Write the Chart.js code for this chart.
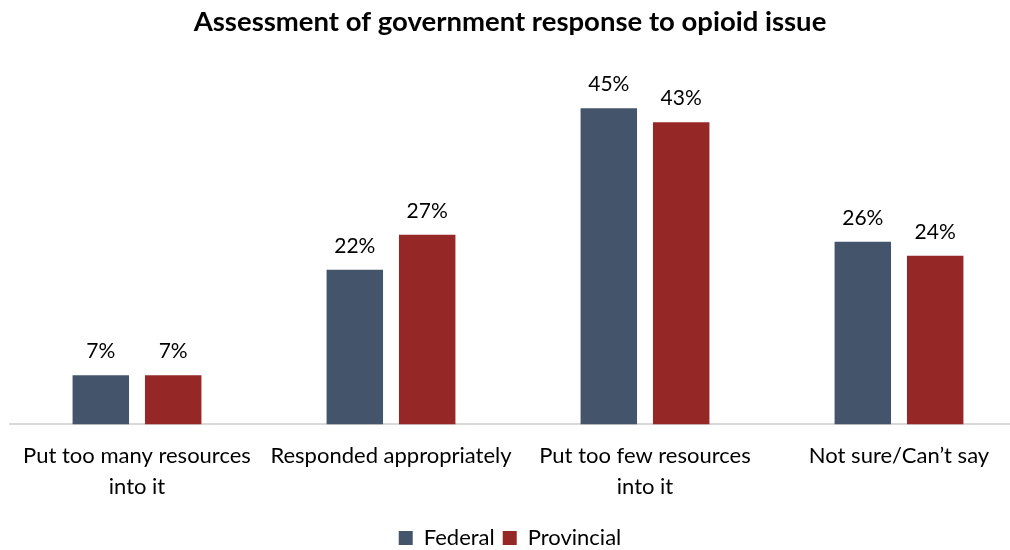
<!DOCTYPE html>
<html>
<head>
<meta charset="utf-8">
<script src="https://cdn.jsdelivr.net/npm/chart.js@4.4.0/dist/chart.umd.min.js"></script>
<style>
  html, body { margin: 0; padding: 0; background: #fff; }
</style>
</head>
<body>
<canvas id="grafico" width="1010" height="550"></canvas>
<script>
var categorie = [
  ['Put too many resources', 'into it'],
  'Responded appropriately',
  ['Put too few resources', 'into it'],
  'Not sure/Can\u2019t say'
];
var federale = [7, 22, 45, 26];
var provinciale = [7, 27, 43, 24];

// etichette sopra le barre
var etichette = {
  id: 'etichette',
  afterDatasetsDraw: function (chart) {
    var ctx = chart.ctx;
    ctx.save();
    ctx.font = '21px Lato';
    ctx.fillStyle = '#000';
    ctx.textAlign = 'center';
    ctx.textBaseline = 'bottom';
    chart.data.datasets.forEach(function (ds, i) {
      chart.getDatasetMeta(i).data.forEach(function (bar, j) {
        ctx.fillText(ds.data[j] + '%', bar.x, bar.y - 13);
      });
    });
    ctx.restore();
  }
};

// l'asse x esce un po' a destra del canvas, la legenda scende in basso
var aggiusta = {
  id: 'aggiusta',
  afterLayout: function (chart) {
    var x = chart.scales.x;
    x.right += 16;
    x.width += 16;
    x.configure();
    chart.legend.top += 9;
    chart.legend.bottom += 9;
  }
};

var myChart = new Chart(document.getElementById('grafico'), {
  type: 'bar',
  data: {
    labels: categorie,
    datasets: [{
      label: 'Federal',
      backgroundColor: '#44546A',
      data: federale
    }, {
      label: 'Provincial',
      backgroundColor: '#952826',
      data: provinciale
    }]
  },
  options: {
    responsive: false,
    animation: false,
    layout: { padding: { left: 10, right: 0, top: 0, bottom: 0 } },
    categoryPercentage: 0.57,
    barPercentage: 0.78,
    scales: {
      x: {
        grid: { display: false },
        border: { color: '#d9d9d9', width: 2 },
        ticks: { color: '#000', font: { family: 'Lato', size: 22, lineHeight: 1.4 }, maxRotation: 0, padding: 8 }
      },
      y: {
        display: false,
        min: 0,
        max: 50
      }
    },
    plugins: {
      title: {
        display: true,
        text: 'Assessment of government response to opioid issue',
        color: '#000',
        font: { family: 'Lato', size: 27.5, weight: 'bold' },
        padding: { top: 6, bottom: 34 }
      },
      legend: {
        position: 'bottom',
        labels: {
          color: '#000',
          font: { family: 'Lato', size: 22 },
          boxWidth: 14,
          boxHeight: 14,
          padding: 8
        }
      },
      tooltip: { enabled: false }
    }
  },
  plugins: [etichette, aggiusta]
});
</script>
</body>
</html>
